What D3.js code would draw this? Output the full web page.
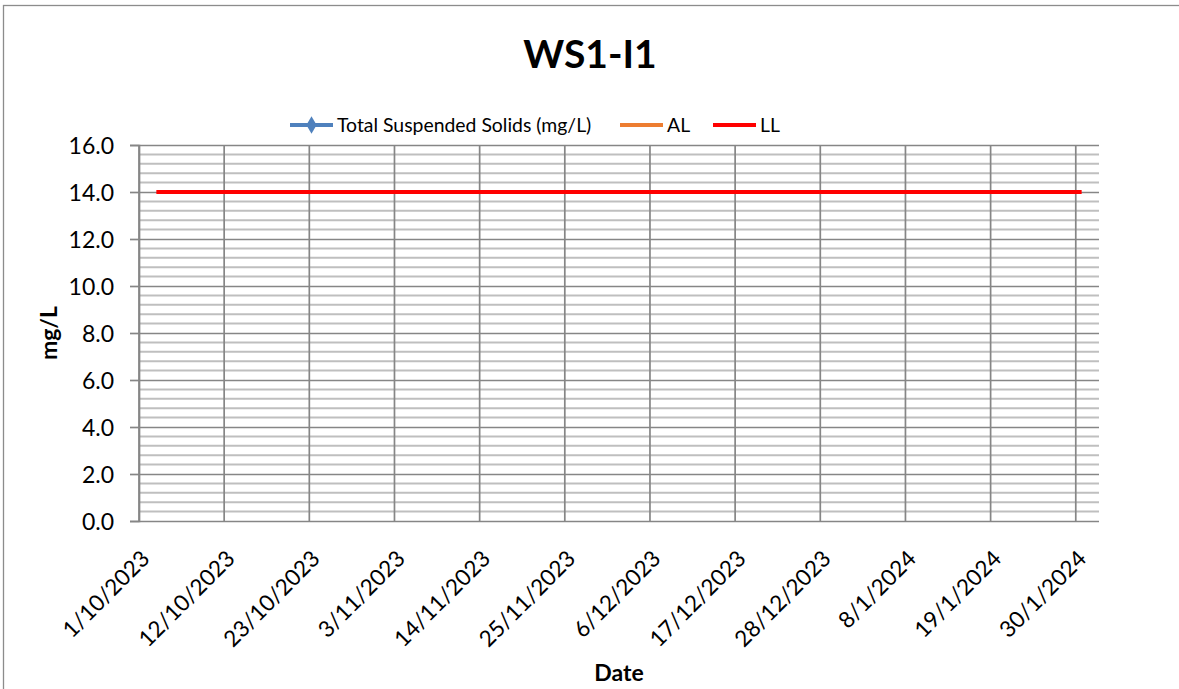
<!DOCTYPE html>
<html>
<head>
<meta charset="utf-8">
<script src="https://cdn.jsdelivr.net/npm/d3@7"></script>
<style>
  html, body { margin: 0; padding: 0; background: #fff; }
  svg { display: block; font-family: Lato, "Open Sans", sans-serif; }
</style>
</head>
<body>
<svg id="chart" width="1179" height="689"></svg>
<script>
// ---- data ----
const chartTitle = "WS1-I1";
const sampleDates = ["2023-10-03", "2024-01-30"];
const tssValues = [null, null];          // Total Suspended Solids (mg/L)
const alValues = [null, null];           // Action Level
const llValues = [14, 14];               // Limit Level
const xTickLabels = ["1/10/2023", "12/10/2023", "23/10/2023", "3/11/2023", "14/11/2023",
  "25/11/2023", "6/12/2023", "17/12/2023", "28/12/2023", "8/1/2024", "19/1/2024", "30/1/2024"];
const yTicks = [0, 2, 4, 6, 8, 10, 12, 14, 16];
const legendNames = ["Total Suspended Solids (mg/L)", "AL", "LL"];
const seriesColors = ["#4F81BD", "#ED7D31", "#FF0000"];

// ---- layout ----
const plot = { left: 139, right: 1099, top: 145, bottom: 521 };
const gridDark = "#868686", gridLight = "#bfbfbf";

const parseD = d3.utcParse("%Y-%m-%d");
const parseLabel = d3.utcParse("%d/%m/%Y");
const tickDates = xTickLabels.map(parseLabel);

const x = d3.scaleUtc()
  .domain([parseD("2023-10-01"), parseD("2024-02-02")])
  .range([plot.left, plot.right]);
const dayW = x(parseD("2023-10-02")) - x(parseD("2023-10-01"));
// each point sits in the middle of its day
const xPos = d => x(d) + dayW / 2;

const y = d3.scaleLinear().domain([0, 16]).range([plot.bottom, plot.top]);

const svg = d3.select("#chart");

// outer chart border
svg.append("rect")
  .attr("x", 3.5).attr("y", 5.5).attr("width", 1300).attr("height", 1000)
  .attr("fill", "#fff").attr("stroke", "#8c8c8c").attr("stroke-width", 1.3);

// title
svg.append("text")
  .attr("x", 590).attr("y", 68)
  .attr("text-anchor", "middle")
  .attr("font-weight", "bold").attr("font-size", 39)
  .text(chartTitle);

// minor horizontal gridlines (every 0.4)
const minorTicks = d3.range(0, 16.0001, 0.4).filter(v => Math.abs(v / 2 - Math.round(v / 2)) > 1e-6);
svg.append("g").selectAll("line").data(minorTicks).join("line")
  .attr("x1", plot.left).attr("x2", plot.right)
  .attr("y1", d => y(d)).attr("y2", d => y(d))
  .attr("stroke", gridLight).attr("stroke-width", 2);

// vertical gridlines
svg.append("g").selectAll("line").data(tickDates).join("line")
  .attr("x1", d => x(d)).attr("x2", d => x(d))
  .attr("y1", plot.top).attr("y2", plot.bottom)
  .attr("stroke", gridDark).attr("stroke-width", 1.7);

// major horizontal gridlines + y axis
const yAxis = d3.axisLeft(y).tickValues(yTicks).tickSize(9).tickPadding(16)
  .tickFormat(d3.format(".1f"));
const yg = svg.append("g").attr("transform", `translate(${plot.left},0)`).call(yAxis);
yg.select(".domain").attr("stroke", gridDark).attr("stroke-width", 1.7);
yg.selectAll(".tick line").attr("stroke", gridDark).attr("stroke-width", 1.7);
yg.selectAll(".tick").append("line")
  .attr("x1", 0).attr("x2", plot.right - plot.left)
  .attr("stroke", gridDark).attr("stroke-width", 1.7);
yg.selectAll(".tick text")
  .attr("font-family", "Lato, sans-serif").attr("font-size", 23)
  .attr("fill", "#000").attr("dy", "0.36em");

// x axis labels (rotated)
const xg = svg.append("g");
xg.selectAll("text").data(tickDates).join("text")
  .attr("text-anchor", "end")
  .attr("font-size", 22.5)
  .attr("transform", d => `translate(${x(d) + 12},${plot.bottom + 39}) rotate(-45)`)
  .text((d, i) => xTickLabels[i]);

// axis titles
svg.append("text")
  .attr("transform", `translate(57,${(plot.top + plot.bottom) / 2}) rotate(-90)`)
  .attr("text-anchor", "middle").attr("font-weight", "bold").attr("font-size", 23)
  .text("mg/L");
svg.append("text")
  .attr("x", (plot.left + plot.right) / 2).attr("y", 681)
  .attr("text-anchor", "middle").attr("font-weight", "bold").attr("font-size", 23)
  .text("Date");

// series
const dates = sampleDates.map(parseD);
const seriesValues = [tssValues, alValues, llValues];
const line = d3.line()
  .defined(d => d.v != null)
  .x(d => xPos(d.date)).y(d => y(d.v));
seriesValues.forEach((vals, i) => {
  const pts = dates.map((date, j) => ({ date, v: vals[j] }));
  svg.append("path").datum(pts)
    .attr("fill", "none").attr("stroke", seriesColors[i])
    .attr("stroke-width", 4).attr("stroke-linecap", "square")
    .attr("d", line);
  if (i === 0) {
    svg.append("g").selectAll("path").data(pts.filter(p => p.v != null)).join("path")
      .attr("transform", p => `translate(${xPos(p.date)},${y(p.v)})`)
      .attr("d", d3.symbol(d3.symbolDiamond, 90))
      .attr("fill", seriesColors[0]);
  }
});

// legend
const legendItems = [
  { x: 290, textX: 337 },
  { x: 620, textX: 667 },
  { x: 713, textX: 760 }
];
const lg = svg.append("g");
legendItems.forEach((it, i) => {
  lg.append("line")
    .attr("x1", it.x).attr("x2", it.x + 43).attr("y1", 125).attr("y2", 125)
    .attr("stroke", seriesColors[i]).attr("stroke-width", 4);
  if (i === 0) {
    lg.append("path")
      .attr("transform", `translate(${it.x + 21.5},125)`)
      .attr("d", d3.symbol(d3.symbolDiamond, 90))
      .attr("fill", seriesColors[0]);
  }
  lg.append("text")
    .attr("x", it.textX).attr("y", 132)
    .attr("font-size", 19.4)
    .text(legendNames[i]);
});
</script>
</body>
</html>
